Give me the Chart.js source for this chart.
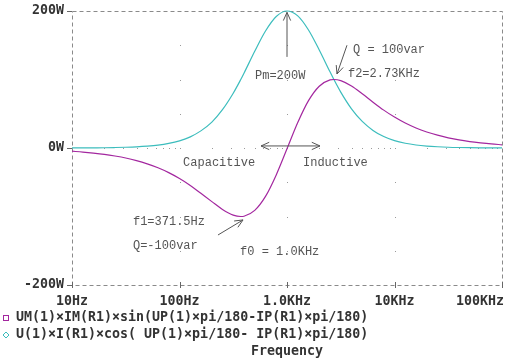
<!DOCTYPE html>
<html>
<head>
<meta charset="utf-8">
<script src="https://cdn.jsdelivr.net/npm/chart.js@4.4.1/dist/chart.umd.min.js"></script>
<style>
  html, body { margin: 0; padding: 0; background: #fff; }
  #wrap { width: 512px; height: 362px; position: relative; }
</style>
</head>
<body>
<div id="wrap"><canvas id="chart" width="512" height="362"></canvas></div>
<script>
// frequency points (Hz)
const freqs = [10, 12.6, 15.8, 20, 25.1, 31.6, 39.8, 50.1, 63.1, 79.4,
    100, 126, 158, 200, 251, 316, 371.5, 398, 501, 631, 794,
    1000, 1259, 1585, 1995, 2512, 2730, 3162, 3981, 5012, 6310, 7943,
    10000, 12589, 15849, 19953, 25119, 31623, 39811, 50119, 63096, 79433, 100000];
// reactive power Q (magenta)
const reactive = [-4.7, -5.9, -7.4, -9.3, -11.7, -14.6, -18.4, -23.1, -28.8, -35.9,
    -44.5, -54.6, -66.2, -78.3, -89.7, -98.0, -100, -99.6, -91.1, -70.7, -39.3,
    -1.2, 37.1, 69.1, 90.2, 99.4, 100, 98.3, 90.4, 79.1, 66.9, 55.3,
    45.1, 36.4, 29.2, 23.4, 18.7, 14.9, 11.8, 9.4, 7.5, 5.9, 4.7];
// active power P (cyan)
const active = [0.1, 0.2, 0.3, 0.4, 0.7, 1.1, 1.7, 2.7, 4.2, 6.7,
    10.5, 16.3, 25.0, 37.8, 55.9, 79.9, 100, 109.2, 141.2, 170.8, 192.0,
    200, 192.9, 172.3, 143.1, 111.2, 100, 81.6, 57.2, 38.8, 25.7, 16.7,
    10.7, 6.9, 4.4, 2.8, 1.8, 1.1, 0.7, 0.44, 0.28, 0.18, 0.11];

const xTickValues = [10, 100, 1000, 10000, 100000];
const xTickLabels = ['10Hz', '100Hz', '1.0KHz', '10KHz', '100KHz'];
const yTickValues = [200, 0, -200];
const yTickLabels = ['200W', '0W', '-200W'];
const gridLevels = [-150, -100, -50, 50, 100, 150];

const legendLabels = [
    'UM(1)×IM(R1)×sin(UP(1)×pi/180-IP(R1)×pi/180)',
    'U(1)×I(R1)×cos( UP(1)×pi/180- IP(R1)×pi/180)'
];
const xTitle = 'Frequency';

const MAGENTA = '#a3279f';
const CYAN = '#3cbdbd';

// notes on the plot, placed in data units [freq, value]
const notes = [
    { text: 'Pm=200W', f: 504, v: 106 },
    { text: 'Q = 100var', f: 4111, v: 143 },
    { text: 'f2=2.73KHz', f: 3690, v: 109 },
    { text: 'Capacitive', f: 108, v: -22 },
    { text: 'Inductive', f: 1409, v: -22 },
    { text: 'f1=371.5Hz', f: 36.9, v: -108 },
    { text: 'Q=-100var', f: 36.9, v: -143 },
    { text: 'f0 = 1.0KHz', f: 366, v: -152 }
];
const arrows = [
    { from: [1000, 133], to: [1000, 198], both: false },
    { from: [3614, 150], to: [2918, 108], both: false },
    { from: [228, -127], to: [390, -105], both: false },
    { from: [573, 3], to: [2028, 3], both: true }
];

function toPoints(ys) {
    return freqs.map(function (f, i) { return { x: f, y: ys[i] }; });
}

function arrowHead(ctx, x1, y1, x2, y2) {
    const a = Math.atan2(y2 - y1, x2 - x1);
    const len = 9;
    ctx.beginPath();
    ctx.moveTo(x2 - len * Math.cos(a - 0.42), y2 - len * Math.sin(a - 0.42));
    ctx.lineTo(x2, y2);
    ctx.lineTo(x2 - len * Math.cos(a + 0.42), y2 - len * Math.sin(a + 0.42));
    ctx.stroke();
}

const decorPlugin = {
    id: 'decor',
    beforeDatasetsDraw: function (chart) {
        const ctx = chart.ctx;
        const xs = chart.scales.x, ys = chart.scales.y;
        const a = chart.chartArea;
        ctx.save();
        // grid dots
        ctx.fillStyle = '#9a9a9a';
        [100, 1000, 10000].forEach(function (f) {
            const px = Math.round(xs.getPixelForValue(f));
            gridLevels.forEach(function (v) {
                ctx.fillRect(px, Math.round(ys.getPixelForValue(v)), 1, 1);
            });
        });
        const y0 = Math.round(ys.getPixelForValue(0));
        for (let d = 10; d < 100000; d *= 10) {
            for (let k = 1; k < 10; k++) {
                ctx.fillRect(Math.round(xs.getPixelForValue(d * k)), y0, 1, 1);
            }
        }
        // dashed frame
        ctx.strokeStyle = '#8a8a8a';
        ctx.lineWidth = 1;
        ctx.setLineDash([4, 3]);
        ctx.strokeRect(a.left + 0.5, a.top + 0.5, a.right - a.left, a.bottom - a.top);
        ctx.setLineDash([]);
        // ticks
        ctx.strokeStyle = '#666';
        yTickValues.forEach(function (v) {
            const py = Math.round(ys.getPixelForValue(v)) + 0.5;
            ctx.beginPath();
            ctx.moveTo(a.left - 5, py);
            ctx.lineTo(a.left, py);
            ctx.stroke();
        });
        xTickValues.forEach(function (f) {
            const px = Math.round(xs.getPixelForValue(f)) + 0.5;
            ctx.beginPath();
            ctx.moveTo(px, a.bottom - 3);
            ctx.lineTo(px, a.bottom + 3);
            ctx.stroke();
        });
        ctx.restore();
    },
    afterDraw: function (chart) {
        const ctx = chart.ctx;
        const xs = chart.scales.x, ys = chart.scales.y;
        const a = chart.chartArea;
        ctx.save();
        // tick labels
        ctx.font = 'bold 13.3px "DejaVu Sans Mono"';
        ctx.fillStyle = '#333';
        ctx.textBaseline = 'middle';
        ctx.textAlign = 'right';
        yTickValues.forEach(function (v, i) {
            ctx.fillText(yTickLabels[i], a.left - 8, ys.getPixelForValue(v));
        });
        xTickValues.forEach(function (f, i) {
            const px = xs.getPixelForValue(f);
            const w = ctx.measureText(xTickLabels[i]).width;
            let left = px - w / 2;
            if (left + w > chart.width - 8) left = chart.width - 8 - w;
            ctx.textAlign = 'left';
            ctx.fillText(xTickLabels[i], left, a.bottom + 17);
        });
        // legend
        ctx.textAlign = 'left';
        ctx.fillText(legendLabels[0], 16, 318);
        ctx.fillText(legendLabels[1], 16, 335);
        ctx.strokeStyle = MAGENTA;
        ctx.lineWidth = 1;
        ctx.strokeRect(3.5, 315.5, 5, 5);
        ctx.strokeStyle = CYAN;
        ctx.beginPath();
        ctx.moveTo(6, 332); ctx.lineTo(9, 335); ctx.lineTo(6, 338); ctx.lineTo(3, 335);
        ctx.closePath();
        ctx.stroke();
        ctx.textAlign = 'center';
        ctx.fillText(xTitle, (a.left + a.right) / 2, 352);
        // notes
        ctx.font = '12px "Liberation Mono"';
        ctx.fillStyle = '#555';
        ctx.textAlign = 'left';
        notes.forEach(function (n) {
            ctx.fillText(n.text, xs.getPixelForValue(n.f), ys.getPixelForValue(n.v));
        });
        ctx.strokeStyle = '#555';
        ctx.lineWidth = 1;
        arrows.forEach(function (ar) {
            const x1 = xs.getPixelForValue(ar.from[0]), y1 = ys.getPixelForValue(ar.from[1]);
            const x2 = xs.getPixelForValue(ar.to[0]), y2 = ys.getPixelForValue(ar.to[1]);
            ctx.beginPath();
            ctx.moveTo(x1, y1);
            ctx.lineTo(x2, y2);
            ctx.stroke();
            arrowHead(ctx, x1, y1, x2, y2);
            if (ar.both) arrowHead(ctx, x2, y2, x1, y1);
        });
        ctx.restore();
    }
};

new Chart(document.getElementById('chart').getContext('2d'), {
    type: 'line',
    data: {
        datasets: [{
            label: legendLabels[0],
            data: toPoints(reactive),
            borderColor: MAGENTA,
            borderWidth: 1.2,
            pointRadius: 0,
            cubicInterpolationMode: 'monotone',
            clip: 3
        }, {
            label: legendLabels[1],
            data: toPoints(active),
            borderColor: CYAN,
            borderWidth: 1.2,
            pointRadius: 0,
            cubicInterpolationMode: 'monotone',
            clip: 3
        }]
    },
    options: {
        responsive: false,
        animation: false,
        layout: { padding: { left: 72, right: 10, top: 11, bottom: 77 } },
        scales: {
            x: { type: 'logarithmic', min: 10, max: 100000, display: false },
            y: { type: 'linear', min: -200, max: 200, display: false }
        },
        plugins: {
            legend: { display: false },
            tooltip: { enabled: false }
        }
    },
    plugins: [decorPlugin]
});
</script>
</body>
</html>
